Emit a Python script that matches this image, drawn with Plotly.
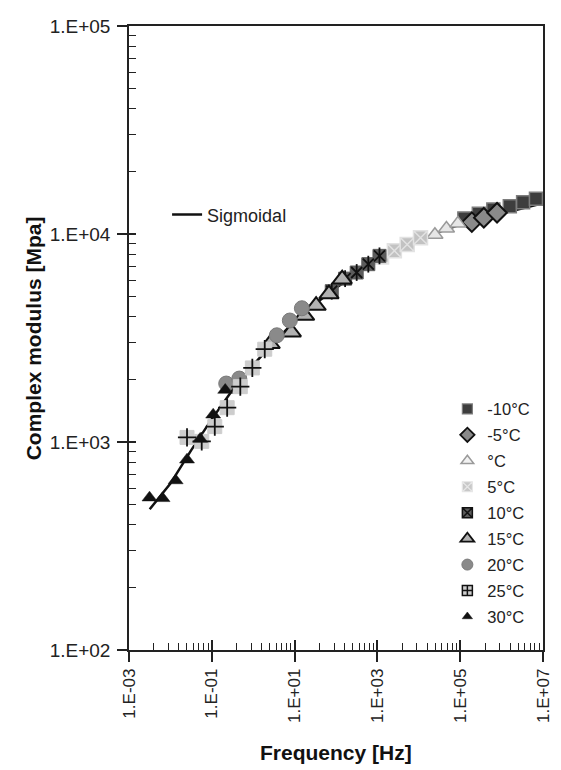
import plotly.graph_objects as go

# ---- data (frequency [Hz], complex modulus [MPa]) ----
f_m10 = [1.26e5, 2.82e5, 6.31e5, 1.58e6, 3.31e6, 6.76e6]
E_m10 = [11885, 12503, 13122, 13614, 14223, 14757]

f_m5 = [1.91e5, 3.72e5, 7.76e5]
E_m5 = [11400, 11970, 12650]

f_0 = [2.45e4, 4.65e4, 8.77e4]
E_0 = [9910, 10620, 11220]

f_5 = [1260, 2570, 5250, 1.10e4]
E_5 = [7760, 8300, 8910, 9590]

f_10 = [79, 166, 316, 603, 1122]
E_10 = [5310, 6100, 6530, 7160, 7850]

f_15 = [2.57, 8.32, 17.4, 33.1, 67.6, 141]
E_15 = [2965, 3373, 4055, 4529, 5140, 6067]

f_20 = [0.223, 0.461, 3.72, 7.67, 15.0]
E_20 = [1910, 2018, 3258, 3837, 4395]

f_25 = [0.0252, 0.0571, 0.118, 0.235, 0.488, 0.953, 1.90]
E_25 = [1052, 1007, 1186, 1462, 1845, 2270, 2793]

f_30 = [0.00313, 0.00646, 0.0134, 0.0252, 0.0524, 0.108, 0.211]
E_30 = [540, 536, 653, 822, 1035, 1352, 1778]

f_sig = [0.00316, 0.01, 0.0316, 0.1, 0.316, 1, 3.16, 10, 31.6, 100, 316, 1000,
         3162, 1e4, 3.16e4, 1e5, 3.16e5, 1e6, 3.16e6, 7.08e6]
E_sig = [475, 631, 912, 1288, 1778, 2344, 3020, 3802, 4624, 5495, 6457, 7413,
         8414, 9333, 10233, 11092, 11885, 12589, 13335, 13804]

x_tickvals = [1e-3, 1e-1, 1e1, 1e3, 1e5, 1e7]
x_ticktext = ["1.E-03", "1.E-01", "1.E+01", "1.E+03", "1.E+05", "1.E+07"]
y_tickvals = [1e2, 1e3, 1e4, 1e5]
y_ticktext = ["1.E+02", "1.E+03", "1.E+04", "1.E+05"]

series_names = ["-10°C", "-5°C", "°C", "5°C", "10°C", "15°C", "20°C", "25°C", "30°C"]

FONT = "Liberation Sans, Arial, sans-serif"

# minor tick positions (Excel-style base-100 decade subdivisions on x)
x_minor = []
for p in [-3, -1, 1, 3, 5]:
    for k in range(2, 10):
        x_minor.append(10 ** p * k * k)
y_minor = []
for p in [2, 3, 4]:
    for k in range(2, 10):
        y_minor.append(10 ** p * k)

fig = go.Figure()

def add(x, y, symbol, size, color, lcolor, lwidth, **kw):
    fig.add_trace(go.Scatter(x=x, y=y, mode="markers", showlegend=False,
                             hoverinfo="skip",
                             marker=dict(symbol=symbol, size=size, color=color,
                                         line=dict(color=lcolor, width=lwidth)),
                             **kw))

# sigmoidal fit line
fig.add_trace(go.Scatter(x=f_sig, y=E_sig, mode="lines", name="Sigmoidal",
                         line=dict(color="#111111", width=2.5),
                         legend="legend2", showlegend=True, hoverinfo="skip"))

# data series (drawn -10 first, 30 last)
add(f_m10, E_m10, "square", 13, "#3d3d3d", "#7d7d7d", 1.5)
add(f_m5, E_m5, "diamond", 15, "#8a8a8a", "#111111", 2)
add(f_0, E_0, "triangle-up", 14, "#e6e6e6", "#9a9a9a", 1.5)
add(f_5, E_5, "square-x", 14, "#c2c2c2", "#e2e2e2", 1.5)
add(f_10, E_10, "square", 13, "#5c5c5c", "#5c5c5c", 1)
add(f_10, E_10, "x-thin-open", 11, "#111111", "#111111", 1.8)
add(f_10, E_10, "line-ns-open", 12, "#111111", "#111111", 1.8)
add(f_15, E_15, "triangle-up", 17, "#b2b2b2", "#111111", 2)
add(f_20, E_20, "circle", 15, "#8a8a8a", "#7a7a7a", 1)
add(f_25, E_25, "square", 14, "#cdcdcd", "#cdcdcd", 1)
add(f_25, E_25, "cross-thin-open", 13, "#111111", "#111111", 1.8)
add(f_30, E_30, "triangle-up", 13, "#111111", "#111111", 0.5)

# legend-only entries
leg_styles = [
    ("square", 10, "#3d3d3d", "#7d7d7d", 1.2),
    ("diamond", 11, "#8a8a8a", "#111111", 1.8),
    ("triangle-up", 11, "#f2f2f2", "#9a9a9a", 1.5),
    ("square-x", 10, "#c8c8c8", "#e6e6e6", 1.2),
    ("square-x", 10, "#5c5c5c", "#111111", 1.5),
    ("triangle-up", 12, "#b2b2b2", "#111111", 1.8),
    ("circle", 11, "#8a8a8a", "#7a7a7a", 1),
    ("square-cross", 10, "#cdcdcd", "#111111", 1.5),
    ("triangle-up", 9, "#111111", "#111111", 0.5),
]
for name, (sym, sz, c, lc, lw) in zip(series_names, leg_styles):
    fig.add_trace(go.Scatter(x=[None], y=[None], mode="markers", name=name,
                             legend="legend", showlegend=True, legendgroup=name,
                             marker=dict(symbol=sym, size=sz, color=c,
                                         line=dict(color=lc, width=lw))))

# dummy trace for the inner half of the major ticks
fig.add_trace(go.Scatter(x=f_sig, y=E_sig, mode="lines", xaxis="x2", yaxis="y2",
                         line=dict(width=0), opacity=0, showlegend=False,
                         hoverinfo="skip"))

# the page body has an 8px margin: the figure is sized/offset to compensate
fig.update_layout(
    width=553, height=762,
    margin=dict(l=121, r=8, t=14, b=120),
    paper_bgcolor="white", plot_bgcolor="white",
    font=dict(family=FONT, color="#222222"),
    xaxis=dict(type="log", range=[-3, 7], tickmode="array", tickvals=x_tickvals,
               ticktext=x_ticktext, tickangle=-90, ticks="outside", ticklen=10,
               tickwidth=1.5, tickcolor="#222222", showgrid=False, zeroline=False,
               tickfont=dict(family=FONT, size=17, color="#222222"),
               showline=True, linecolor="#222222", linewidth=1.5, mirror=True,
               minor=dict(tickmode="array", tickvals=x_minor, ticks="inside",
                          ticklen=7, tickwidth=1, tickcolor="#222222")),
    yaxis=dict(type="log", range=[2, 5], tickmode="array", tickvals=y_tickvals,
               ticktext=y_ticktext, ticks="outside", ticklen=10,
               tickwidth=1.5, tickcolor="#222222", showgrid=False, zeroline=False,
               tickfont=dict(family=FONT, size=19, color="#222222"),
               ticklabelstandoff=3,
               showline=True, linecolor="#222222", linewidth=1.5, mirror=True,
               minor=dict(tickmode="array", tickvals=y_minor, ticks="inside",
                          ticklen=7, tickwidth=1, tickcolor="#222222")),
    xaxis2=dict(type="log", range=[-3, 7], overlaying="x", anchor="y2", side="bottom",
                tickmode="array", tickvals=x_tickvals, ticks="inside", ticklen=10,
                tickwidth=1.5, tickcolor="#222222", showticklabels=False,
                showline=False, showgrid=False, zeroline=False),
    yaxis2=dict(type="log", range=[2, 5], overlaying="y", anchor="x2", side="left",
                tickmode="array", tickvals=y_tickvals, ticks="inside", ticklen=7,
                tickwidth=1.5, tickcolor="#222222", showticklabels=False,
                showline=False, showgrid=False, zeroline=False),
    legend=dict(x=0.769, y=0.414, xanchor="left", yanchor="top",
                bgcolor="rgba(0,0,0,0)", borderwidth=0,
                font=dict(family=FONT, size=16.5, color="#222222"),
                itemsizing="trace", traceorder="grouped", tracegroupgap=1.5),
    legend2=dict(x=0.092, y=0.7270, xanchor="left", yanchor="top",
                 bgcolor="rgba(0,0,0,0)", borderwidth=0,
                 font=dict(family=FONT, size=18, color="#222222")),
    annotations=[
        dict(text="<b>Complex modulus [Mpa]</b>", xref="paper", yref="paper",
             x=-0.2311, y=0.5, xanchor="center", yanchor="middle", textangle=-90,
             showarrow=False, font=dict(family=FONT, size=21, color="#111111")),
        dict(text="<b>Frequency [Hz]</b>", xref="paper", yref="paper",
             x=0.5, y=-0.1640, xanchor="center", yanchor="middle",
             showarrow=False, font=dict(family=FONT, size=21, color="#111111")),
    ],
)

fig.write_html("out.html")
